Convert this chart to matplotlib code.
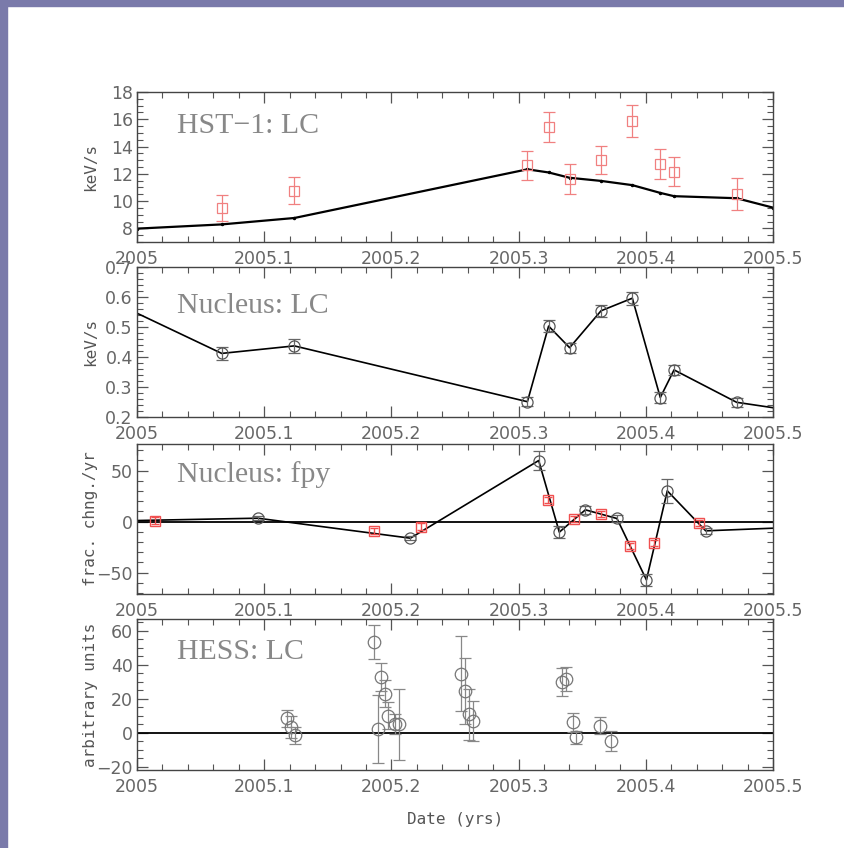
import matplotlib
matplotlib.use("Agg")
import matplotlib.pyplot as plt
from matplotlib.patches import Rectangle
from matplotlib.ticker import MultipleLocator, FormatStrFormatter

# HST-1 light curve (red squares) and model line
hst_t = [2005.0666, 2005.1237, 2005.3069, 2005.3236, 2005.3401, 2005.3648, 2005.3894, 2005.4114, 2005.4222, 2005.4714]
hst_v = [9.5, 10.76, 12.62, 15.4, 11.62, 13.02, 15.86, 12.74, 12.17, 10.52]
hst_e = [0.95, 1.0, 1.07, 1.1, 1.07, 1.0, 1.17, 1.1, 1.07, 1.17]
model_t = [2005.0, 2005.0666, 2005.1237, 2005.3069, 2005.3236, 2005.3401, 2005.3648, 2005.3894, 2005.4114, 2005.4222, 2005.4714, 2005.5]
model_v = [7.98, 8.29, 8.76, 12.33, 12.1, 11.71, 11.48, 11.17, 10.6, 10.36, 10.21, 9.52]

# Nucleus light curve
nuc_t = [2005.0666, 2005.1237, 2005.3069, 2005.3236, 2005.3401, 2005.3648, 2005.3894, 2005.4114, 2005.4222, 2005.4714]
nuc_v = [0.412, 0.437, 0.251, 0.503, 0.431, 0.554, 0.596, 0.265, 0.357, 0.249]
nuc_e = [0.023, 0.023, 0.015, 0.02, 0.017, 0.02, 0.022, 0.017, 0.017, 0.015]
nuc_line_t = [2005.0] + nuc_t + [2005.5]
nuc_line_v = [0.546] + nuc_v + [0.231]

# Nucleus fractional change per year
fpy_t = [2005.0949, 2005.2149, 2005.3158, 2005.332, 2005.3525, 2005.3773, 2005.4005, 2005.4169, 2005.4471]
fpy_v = [3.3, -16.3, 59.8, -10.4, 11.5, 3.0, -57.2, 30.1, -9.1]
fpy_e = [2.0, 2.0, 9.5, 6.0, 4.0, 3.0, 6.0, 12.0, 3.0]
fpy_line_t = [2005.0] + fpy_t + [2005.5]
fpy_line_v = [1.0] + fpy_v + [-6.5]
red_t = [2005.0142, 2005.1866, 2005.2233, 2005.3234, 2005.3438, 2005.3645, 2005.3878, 2005.4061, 2005.4416]
red_v = [1.0, -9.4, -4.9, 21.3, 2.3, 7.5, -23.8, -21.2, -1.3]

# HESS light curve
hess_t = [2005.1182, 2005.121, 2005.1242, 2005.1863, 2005.1895, 2005.1921, 2005.195, 2005.1976, 2005.2028, 2005.2062,
          2005.255, 2005.2581, 2005.2608, 2005.2642, 2005.3339, 2005.337, 2005.3425, 2005.3454, 2005.3643, 2005.3726]
hess_v = [8.4, 3.3, -1.6, 53.7, 2.0, 32.8, 22.9, 9.9, 5.0, 5.0,
          34.8, 24.8, 10.9, 6.9, 29.9, 31.8, 6.0, -2.8, 4.0, -4.8]
hess_e = [5.0, 6.5, 5.0, 10.0, 20.0, 8.5, 8.0, 8.0, 6.0, 21.0,
          22.0, 19.5, 15.0, 12.0, 8.0, 7.0, 5.5, 4.0, 5.0, 6.0]

titles = ["HST\u22121: LC", "Nucleus: LC", "Nucleus: fpy", "HESS: LC"]
ylabels = ["keV/s", "keV/s", "frac. chng./yr", "arbitrary units"]

fig = plt.figure(figsize=(8.45, 8.48), dpi=100)
fig.patches.append(Rectangle((0, 0), 7/845, 1, transform=fig.transFigure, color="#7a7aaa", zorder=-5))
fig.patches.append(Rectangle((0, 1 - 6/848), 1, 6/848, transform=fig.transFigure, color="#7a7aaa", zorder=-5))

L, W = 137/845, 636/845
boxes = [(92, 242), (267, 417), (444, 594), (619, 770)]
axs = []
for top, bot in boxes:
    axs.append(fig.add_axes([L, 1 - bot/848, W, (bot - top)/848]))

tickc = "#555555"
lab = "#666666"
for ax in axs:
    ax.set_xlim(2005, 2005.5)
    ax.xaxis.set_major_locator(MultipleLocator(0.1))
    ax.xaxis.set_minor_locator(MultipleLocator(0.02))
    ax.xaxis.set_major_formatter(FormatStrFormatter("%g"))
    ax.tick_params(which="both", direction="in", top=True, right=True, color=tickc, labelcolor=lab)
    ax.tick_params(which="major", length=8, width=0.9, labelsize=12.5)
    ax.tick_params(which="minor", length=4, width=0.8)
    ax.tick_params(axis="x", pad=6)
    ax.tick_params(axis="y", pad=3)
    for s in ax.spines.values():
        s.set_color("#444444")
        s.set_linewidth(1.0)

# panel 1
ax = axs[0]
ax.set_ylim(7, 18)
ax.yaxis.set_major_locator(MultipleLocator(2))
ax.yaxis.set_minor_locator(MultipleLocator(0.5))
ax.plot(model_t, model_v, color="black", lw=1.6, marker=".", ms=3)
ax.errorbar(hst_t, hst_v, yerr=hst_e, fmt="s", mfc="none", mec="#f08080", ecolor="#f08080",
            ms=7, mew=0.9, elinewidth=0.9, capsize=4, capthick=0.9)

# panel 2
ax = axs[1]
ax.set_ylim(0.2, 0.7)
ax.yaxis.set_major_locator(MultipleLocator(0.1))
ax.yaxis.set_minor_locator(MultipleLocator(0.02))
ax.yaxis.set_major_formatter(FormatStrFormatter("%.1f"))
ax.plot(nuc_line_t, nuc_line_v, color="black", lw=1.2)
ax.errorbar(nuc_t, nuc_v, yerr=nuc_e, fmt="o", mfc="none", mec="#555555", ecolor="#666666",
            ms=8, mew=0.9, elinewidth=0.9, capsize=4, capthick=0.9)

# panel 3
ax = axs[2]
ax.set_ylim(-71, 76)
ax.yaxis.set_major_locator(MultipleLocator(50))
ax.yaxis.set_minor_locator(MultipleLocator(10))
ax.axhline(0, color="black", lw=1.3)
ax.plot(fpy_line_t, fpy_line_v, color="black", lw=1.2)
ax.errorbar(fpy_t, fpy_v, yerr=fpy_e, fmt="o", mfc="none", mec="#555555", ecolor="#666666",
            ms=8, mew=0.9, elinewidth=0.9, capsize=4, capthick=0.9)
ax.errorbar(red_t, red_v, yerr=[3] * len(red_t), fmt="s", mfc="none", mec="#f05050", ecolor="#f05050",
            ms=7, mew=1.0, elinewidth=1.0, capsize=3, capthick=1.0)

# panel 4
ax = axs[3]
ax.set_ylim(-22, 67)
ax.yaxis.set_major_locator(MultipleLocator(20))
ax.yaxis.set_minor_locator(MultipleLocator(5))
ax.axhline(0, color="black", lw=1.3)
ax.errorbar(hess_t, hess_v, yerr=hess_e, fmt="o", mfc="none", mec="#777777", ecolor="#888888",
            ms=9, mew=0.9, elinewidth=0.9, capsize=4, capthick=0.9)
ax.set_xlabel("Date (yrs)", family="DejaVu Sans Mono", fontsize=11.5, color="#555555")
ax.xaxis.set_label_coords(0.5, (770 - 812)/151)

title_y = [0.725, 0.693, 0.749, 0.733]
for ax, t, ty in zip(axs, titles, title_y):
    ax.text(0.0625, ty, t, transform=ax.transAxes, family="Liberation Serif", fontsize=21.5,
            color="#888888", va="baseline", ha="left")

for ax, yl in zip(axs, ylabels):
    ax.set_ylabel(yl, family="DejaVu Sans Mono", fontsize=11.5, color="#555555")
    ax.yaxis.set_label_coords((98 - 137)/636, 0.5)

fig.savefig("out.png", dpi=100)
